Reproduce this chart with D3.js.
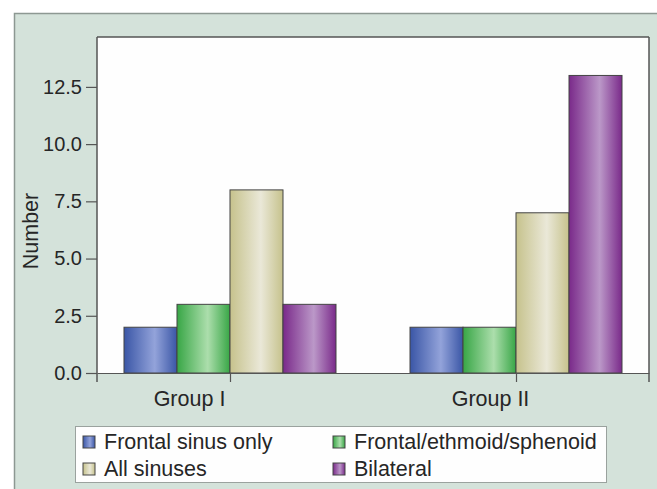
<!DOCTYPE html>
<html>
<head>
<meta charset="utf-8">
<script src="https://cdn.jsdelivr.net/npm/d3@7"></script>
<style type="text/css">
  body{
    margin: 0px;
    background: white;
  }
  svg text{
    font-family: 'Liberation Sans', Arial, sans-serif;
    fill: #262626;
  }
  .axis path,
  .axis line{
    stroke: #555;
    stroke-width: 1.2px;
  }
  .axis text{
    font-size: 20px;
    fill: #262626;
  }
</style>
</head>
<body>

<svg id="chart" width="657" height="489"></svg>

<script>

var groups = ["Group I", "Group II"];
var seriesNames = ["Frontal sinus only", "Frontal/ethmoid/sphenoid", "All sinuses", "Bilateral"];

var frontalOnly = [2, 2];
var frontalEthmoid = [3, 2];
var allSinuses = [8, 7];
var bilateral = [3, 13];

var yTicks = [0, 2.5, 5, 7.5, 10, 12.5];

// edge / highlight colour of each bar series
var darkColors = ["#3a56a6", "#38a646", "#c6c28c", "#7a2a8a"];
var lightColors = ["#93a3da", "#acdeac", "#eae8d8", "#bb98c8"];

var seriesValues = [frontalOnly, frontalEthmoid, allSinuses, bilateral];

var data = groups.map(function(g, gi) {
  return {
    group: g,
    values: seriesNames.map(function(s, si) {
      return { key: s, idx: si, value: seriesValues[si][gi] };
    })
  };
});

var svg = d3.select("#chart");

var plotLeft = 97, plotRight = 649, plotTop = 37, plotBottom = 373;

// outer panel
svg.append("rect")
  .attr("x", 14.5).attr("y", 13.5)
  .attr("width", 660).attr("height", 500)
  .attr("fill", "#d4e2da")
  .attr("stroke", "#8d9892")
  .attr("stroke-width", 1.5);

// plot area
svg.append("rect")
  .attr("x", plotLeft).attr("y", plotTop)
  .attr("width", plotRight - plotLeft).attr("height", plotBottom - plotTop)
  .attr("fill", "#fefefe");

var y = d3.scaleLinear().domain([0, 14.68]).range([plotBottom, plotTop]);

var x0 = d3.scalePoint().domain(groups).range([plotLeft, plotRight]).padding(0.465);

var x1 = d3.scaleBand().domain(seriesNames).range([-106, 106]);

var defs = svg.append("defs");
seriesNames.forEach(function(s, i) {
  var grd = defs.append("linearGradient")
    .attr("id", "grad" + i)
    .attr("x1", "0%").attr("x2", "100%")
    .attr("y1", "0%").attr("y2", "0%");
  grd.append("stop").attr("offset", "0%").attr("stop-color", darkColors[i]);
  grd.append("stop").attr("offset", "58%").attr("stop-color", lightColors[i]);
  grd.append("stop").attr("offset", "100%").attr("stop-color", darkColors[i]);
});

// bars
var groupG = svg.selectAll(".group")
  .data(data)
  .enter()
  .append("g")
  .attr("class", "group")
  .attr("transform", function(d) { return "translate(" + x0(d.group) + ",0)"; });

groupG.selectAll("rect")
  .data(function(d) { return d.values; })
  .enter()
  .append("rect")
  .attr("x", function(d) { return x1(d.key); })
  .attr("width", x1.bandwidth())
  .attr("y", function(d) { return y(d.value); })
  .attr("height", function(d) { return y(0) - y(d.value); })
  .attr("fill", function(d) { return "url(#grad" + d.idx + ")"; })
  .attr("stroke", "#444")
  .attr("stroke-width", 1);

// frame lines
var frame = svg.append("g").attr("stroke", "#555").attr("stroke-width", 1.5).attr("fill", "none");
frame.append("line").attr("x1", plotLeft).attr("x2", plotRight).attr("y1", plotTop).attr("y2", plotTop);
frame.append("line").attr("x1", plotLeft).attr("x2", plotLeft).attr("y1", plotTop).attr("y2", plotBottom + 9);
frame.append("line").attr("x1", plotRight).attr("x2", plotRight).attr("y1", plotTop).attr("y2", plotBottom + 9);

// y axis
svg.append("g")
  .attr("class", "axis")
  .attr("transform", "translate(" + plotLeft + ",0)")
  .call(d3.axisLeft(y)
    .tickValues(yTicks)
    .tickFormat(d3.format(".1f"))
    .tickSize(11)
    .tickSizeOuter(0)
    .tickPadding(4))
  .select(".domain").remove();

// x axis (labels sit a little left of their ticks in the original)
var labelShift = [-41, -26];
var xAxis = svg.append("g")
  .attr("class", "axis")
  .attr("transform", "translate(0," + plotBottom + ")")
  .call(d3.axisBottom(x0)
    .tickSize(9)
    .tickSizeOuter(0)
    .tickPadding(9));
xAxis.selectAll("text")
  .style("font-size", "21.5px")
  .attr("dx", function(d, i) { return labelShift[i]; });

// y label
svg.append("text")
  .attr("transform", "translate(38,231) rotate(-90)")
  .attr("text-anchor", "middle")
  .style("font-size", "21.5px")
  .text("Number");

// legend
svg.append("rect")
  .attr("x", 75.5).attr("y", 426.5)
  .attr("width", 531).attr("height", 56)
  .attr("fill", "#fefefe")
  .attr("stroke", "#9aa29e")
  .attr("stroke-width", 1);

var legendX = [83, 333];
var legendY = [436, 463];

var legend = svg.selectAll(".legendItem")
  .data(seriesNames)
  .enter()
  .append("g")
  .attr("class", "legendItem")
  .attr("transform", function(d, i) {
    return "translate(" + legendX[i % 2] + "," + legendY[Math.floor(i / 2)] + ")";
  });

legend.append("rect")
  .attr("width", 12).attr("height", 12)
  .attr("fill", function(d, i) { return "url(#grad" + i + ")"; })
  .attr("stroke", "#444")
  .attr("stroke-width", 1);

legend.append("text")
  .attr("x", 21)
  .attr("y", 13)
  .style("font-size", "21.5px")
  .text(function(d) { return d; });

</script>

</body>
</html>
